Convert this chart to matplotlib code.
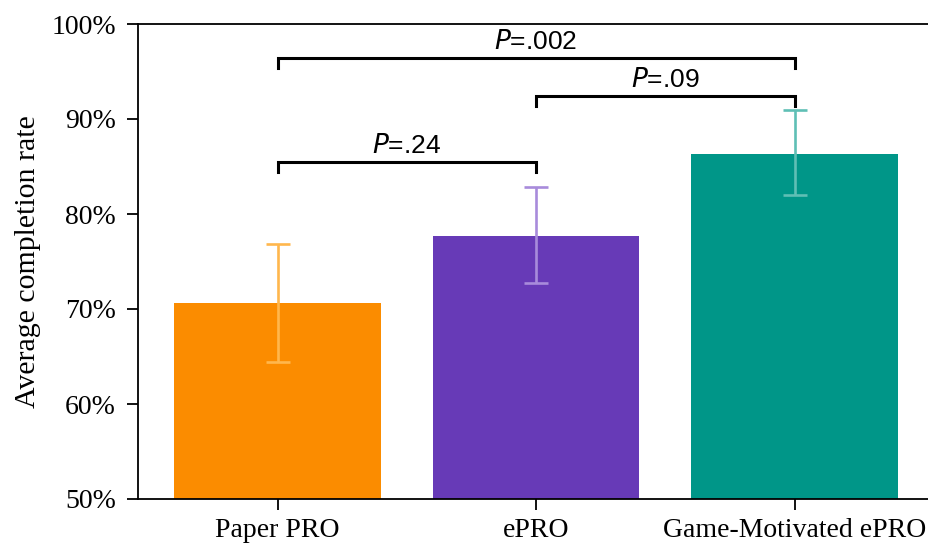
import matplotlib
matplotlib.use("Agg")
import matplotlib.pyplot as plt
from matplotlib.ticker import FuncFormatter

groups = ["Paper PRO", "ePRO", "Game-Motivated ePRO"]
means = [70.6, 77.7, 86.3]
err_low = [64.4, 72.7, 82.0]
err_high = [76.8, 82.8, 91.0]
bar_colors = ["#FB8C00", "#673AB7", "#009688"]
err_colors = ["#FFB74D", "#A88BDB", "#5FBFB5"]

# significance brackets: (left index, right index, height, label)
brackets = [(0, 1, 85.5, ".24"), (1, 2, 92.4, ".09"), (0, 2, 96.4, ".002")]

plt.rcParams["font.family"] = ["Liberation Serif", "DejaVu Serif"]

fig = plt.figure(figsize=(9.29, 5.48), dpi=100)
ax = fig.add_axes([138 / 929, 1 - 499 / 548, 1 - 138 / 929, 475 / 548])

x = list(range(len(groups)))
ax.bar(x, [m - 50 for m in means], bottom=50, width=0.8, color=bar_colors,
       edgecolor="none", zorder=2)
for i in x:
    ax.errorbar(i, means[i],
                yerr=[[means[i] - err_low[i]], [err_high[i] - means[i]]],
                fmt="none", ecolor=err_colors[i], elinewidth=1.9, capsize=8.5,
                capthick=1.9, zorder=3)

leg = 1.05
for a, b, h, txt in brackets:
    ax.plot([a, a, b, b], [h - leg, h, h, h - leg], color="black", lw=2.2,
             solid_joinstyle="miter", zorder=4)
    ax.text((a + b) / 2, h + 0.4, r"$\it{P}$" + "=" + txt, ha="center", va="bottom",
            fontsize=19, family=["Liberation Sans", "DejaVu Sans"])

ax.set_xlim(-0.54, 2.52)
ax.set_ylim(50, 100)
ax.set_xticks(x)
ax.set_xticklabels(groups, fontsize=20)
ax.set_yticks(range(50, 101, 10))
ax.yaxis.set_major_formatter(FuncFormatter(lambda v, p: f"{v:.0f}%"))
ax.tick_params(axis="y", labelsize=20, length=8, width=1.3, direction="out", pad=8)
ax.tick_params(axis="x", length=8, width=1.3, direction="out", pad=6)
ax.set_ylabel("Average completion rate", fontsize=21.5, labelpad=7)
ax.spines["right"].set_visible(False)
for s in ["left", "top", "bottom"]:
    ax.spines[s].set_linewidth(1.3)

fig.savefig("out.png", dpi=100)
